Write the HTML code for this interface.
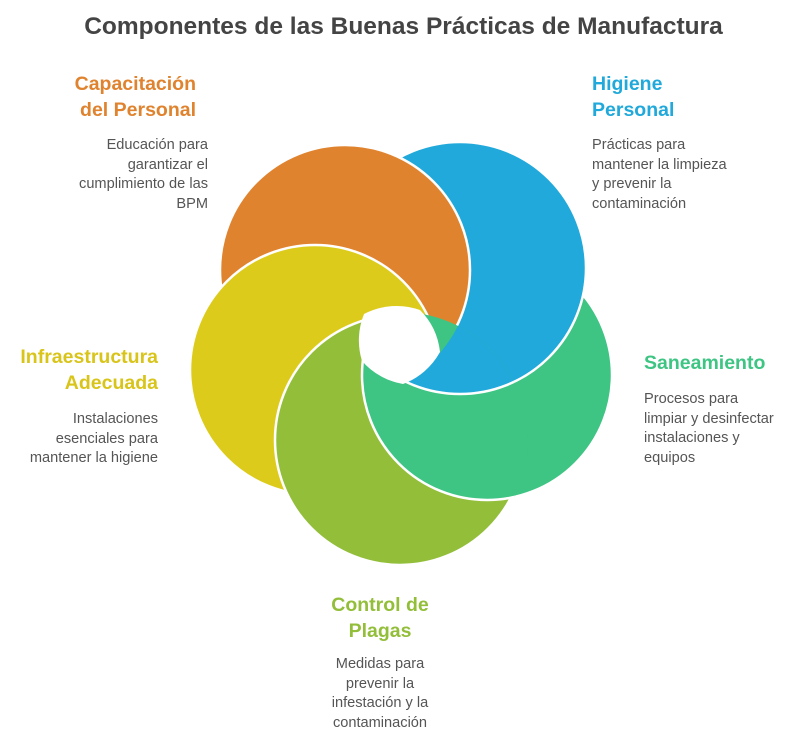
<!DOCTYPE html>
<html><head><meta charset="utf-8"><style>
html,body{margin:0;padding:0;background:#fff;}
body{width:807px;height:749px;position:relative;overflow:hidden;font-family:"Liberation Sans",sans-serif;}
.t{position:absolute;font-weight:bold;font-size:19.5px;line-height:26px;white-space:nowrap;}
.d{position:absolute;font-size:14.6px;line-height:19.7px;color:#555;white-space:nowrap;}
.r{text-align:right;}
.c{text-align:center;}
</style></head><body>
<div style="position:absolute;left:0;top:13px;width:807px;text-align:center;font-weight:bold;font-size:24.5px;color:#444;">Componentes de las Buenas Prácticas de Manufactura</div>

<svg style="position:absolute;left:0;top:0" width="807" height="749">
<defs>
<clipPath id="cp"><circle cx="400" cy="440" r="128"/></clipPath>
<mask id="mb" maskUnits="userSpaceOnUse" x="0" y="0" width="807" height="749">
<rect x="0" y="0" width="807" height="749" fill="#000"/>
<circle cx="400" cy="440" r="128" fill="#fff"/>
<circle cx="345" cy="270" r="126" fill="#000"/>
</mask>
</defs>
<g stroke="#fff" stroke-width="2.5">
<circle cx="487" cy="375" r="125" fill="#3EC483"/>
<circle cx="460" cy="268" r="126" fill="#20A9DA"/>
<circle cx="345" cy="270" r="125" fill="#E0832F"/>
<circle cx="315" cy="370" r="125" fill="#DDCB1C"/>
<circle cx="400" cy="440" r="125" fill="#93BE3A"/>
<circle cx="487" cy="375" r="125" fill="#3EC483" clip-path="url(#cp)"/>
<circle cx="460" cy="268" r="126" fill="#20A9DA" mask="url(#mb)"/>
</g>
<path d="M420 310 A70 70 0 0 1 440 352 A70 70 0 0 1 403 384 A70 70 0 0 1 362 361 A70 70 0 0 1 364 314 A70 70 0 0 1 420 310 Z" fill="#fff"/>
</svg>

<div class="t r" style="right:611px;top:71px;color:#E0832F;">Capacitación<br>del Personal</div>
<div class="d r" style="right:599px;top:136px;">Educación para<br>garantizar el<br>cumplimiento de las<br>BPM</div>

<div class="t" style="left:592px;top:71px;color:#20A9DA;">Higiene<br>Personal</div>
<div class="d" style="left:592px;top:136px;">Prácticas para<br>mantener la limpieza<br>y prevenir la<br>contaminación</div>

<div class="t" style="left:644px;top:350px;color:#3EC483;">Saneamiento</div>
<div class="d" style="left:644px;top:390px;">Procesos para<br>limpiar y desinfectar<br>instalaciones y<br>equipos</div>

<div class="t r" style="right:649px;top:344px;color:#D9C41A;">Infraestructura<br>Adecuada</div>
<div class="d r" style="right:649px;top:410px;">Instalaciones<br>esenciales para<br>mantener la higiene</div>

<div class="t c" style="left:280px;width:200px;top:592px;color:#93BE3A;">Control de<br>Plagas</div>
<div class="d c" style="left:280px;width:200px;top:655px;">Medidas para<br>prevenir la<br>infestación y la<br>contaminación</div>
</body></html>
